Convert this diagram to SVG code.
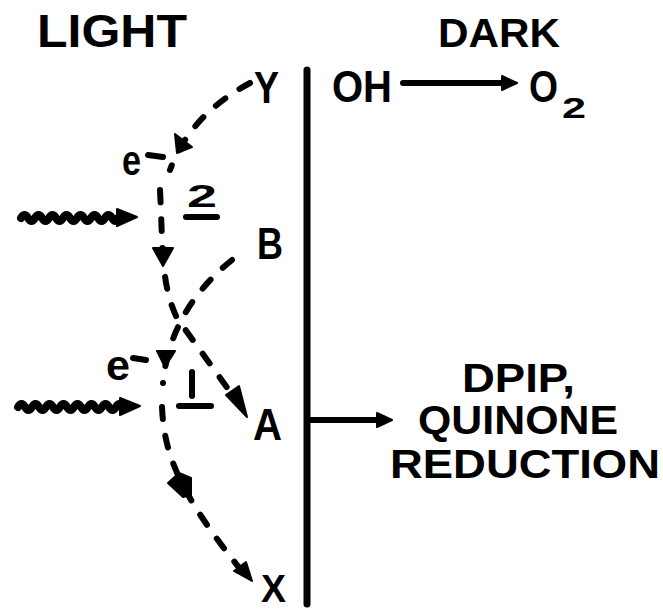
<svg xmlns="http://www.w3.org/2000/svg" width="663" height="610" viewBox="0 0 663 610">
<style>
text{font-family:"Liberation Sans",Arial,sans-serif;font-weight:bold;fill:#000}
.dash{fill:none;stroke:#000;stroke-width:6;stroke-linecap:round;stroke-dasharray:12 17}
.solid{fill:none;stroke:#000;stroke-width:6;stroke-linecap:round}
.wave{fill:none;stroke:#000;stroke-width:8;stroke-linecap:round;stroke-linejoin:round}
.head{fill:#000;stroke:#000;stroke-width:2;stroke-linejoin:round}
</style>
<rect width="663" height="610" fill="#fff"/>
<g id="labels">
<text x="37" y="47" font-size="46" textLength="150" lengthAdjust="spacingAndGlyphs">LIGHT</text>
<text x="438" y="47" font-size="41" textLength="122" lengthAdjust="spacingAndGlyphs">DARK</text>
</g>
<g id="membrane"><line x1="307" y1="70" x2="307" y2="604" stroke="#000" stroke-width="7" stroke-linecap="round"/></g>
<g id="node-Y"><text x="254" y="103" font-size="45" textLength="25" lengthAdjust="spacingAndGlyphs">Y</text></g>
<g id="node-OH"><text x="332" y="102" font-size="45" textLength="60" lengthAdjust="spacingAndGlyphs">OH</text></g>
<g id="node-O2"><text x="529" y="102" font-size="45" textLength="29" lengthAdjust="spacingAndGlyphs">O</text><text x="562" y="118" font-size="30" textLength="24" lengthAdjust="spacingAndGlyphs">2</text></g>
<g id="node-B"><text x="257" y="259" font-size="45" textLength="26" lengthAdjust="spacingAndGlyphs">B</text></g>
<g id="node-A"><text x="253" y="440" font-size="45" textLength="29" lengthAdjust="spacingAndGlyphs">A</text></g>
<g id="node-X"><text x="261" y="602" font-size="39" textLength="25" lengthAdjust="spacingAndGlyphs">X</text></g>
<g id="node-DPIP"><text x="462" y="392" font-size="40" textLength="113" lengthAdjust="spacingAndGlyphs">DPIP,</text><text x="418" y="434" font-size="40" textLength="200" lengthAdjust="spacingAndGlyphs">QUINONE</text><text x="390" y="478" font-size="40" textLength="270" lengthAdjust="spacingAndGlyphs">REDUCTION</text></g>
<g id="ps2"><text x="122" y="175" font-size="42" textLength="19" lengthAdjust="spacingAndGlyphs">e</text><line class="solid" x1="148" y1="155" x2="163" y2="157"/><text x="187" y="207" font-size="31" textLength="30" lengthAdjust="spacingAndGlyphs">2</text><line class="solid" x1="186" y1="217" x2="217" y2="217"/></g>
<g id="ps1"><text x="106" y="380" font-size="42" textLength="24" lengthAdjust="spacingAndGlyphs">e</text><line class="solid" x1="133" y1="358" x2="146" y2="360"/><line class="solid" x1="192" y1="372" x2="192" y2="396"/><line class="solid" x1="179" y1="406" x2="211" y2="406"/></g>
<g id="connectors">
<path class="dash" d="M250,83 Q190,115 170,170"/>
<polygon class="head" points="175,134 192,147 177,153"/>
<path class="dash" d="M160,190 C163,250 161,285 177,318 L236,400"/>
<polygon class="head" points="153,248 173,248 163,266"/>
<polygon class="head" points="226,395 239,386 247,417"/>
<path class="dash" d="M232,260 Q170,310 163,383"/>
<polygon class="head" points="157,351 175,351 165,367"/>
<path class="dash" d="M162,407 C164,455 180,495 245,575"/>
<polygon class="head" points="168,483 179,473 191,478 191,495 183,497"/>
<polygon class="head" points="234,571 246,562 252,581"/>
<line class="solid" x1="403" y1="83" x2="505" y2="83"/>
<polygon class="head" points="502,76 517,83 502,90"/>
<line class="solid" x1="308" y1="420" x2="380" y2="420"/>
<polygon class="head" points="377,413 392,420 377,427"/>
<path class="wave" d="M21,218 q3.5,-6 7,0 t7,0 t7,0 t7,0 t7,0 t7,0 t7,0 t7,0 t7,0 t7,0 t7,0 t7,0 t7,0 t6,0"/>
<polygon class="head" points="117,209 137,217 117,226"/>
<path class="wave" d="M18,407 q3.5,-6 7,0 t7,0 t7,0 t7,0 t7,0 t7,0 t7,0 t7,0 t7,0 t7,0 t7,0 t7,0 t7,0 t7,0 t6,0"/>
<polygon class="head" points="120,398 140,406 120,415"/>
</g>
</svg>
